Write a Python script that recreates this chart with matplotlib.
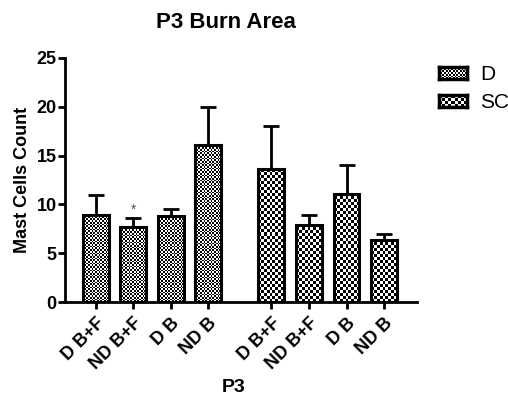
import numpy as np
import matplotlib
matplotlib.use('Agg')
import matplotlib.pyplot as plt

plt.rcParams['font.family'] = ['Liberation Sans', 'DejaVu Sans']

labels = ['D B+F', 'ND B+F', 'D B', 'ND B']
d_mean = [8.9, 7.7, 8.8, 16.1]
d_err = [2.05, 0.9, 0.75, 3.9]
sc_mean = [13.6, 7.9, 11.1, 6.4]
sc_err = [4.4, 1.05, 2.9, 0.6]

x_d = np.arange(4)
x_sc = np.arange(4) + 4.68
w = 0.69

W, H = 508, 396
fig = plt.figure(figsize=(W / 100, H / 100), dpi=100)
ax_rect = [0.128, 0.237, 0.693, 0.617]
ax = fig.add_axes(ax_rect)
ax.set_xlim(-0.82, 8.56)
ax.set_ylim(0, 25)

# pixels per data unit
px_x = ax_rect[2] * W / (8.56 + 0.82)
px_y = ax_rect[3] * H / 25


def checker(ny, nx):
    return np.add.outer(np.arange(ny), np.arange(nx)) % 2


def textured_bars(xs, hs, cell):
    bars = ax.bar(xs, hs, w, facecolor='none', edgecolor='black', linewidth=2.2, zorder=3)
    for b in bars:
        x0, y0 = b.get_x(), b.get_y()
        bw, bh = b.get_width(), b.get_height()
        nx = max(1, int(round(bw * px_x / cell)))
        ny = max(1, int(round(bh * px_y / cell)))
        im = ax.imshow(checker(ny, nx), cmap='gray', vmin=0, vmax=1,
                       extent=(x0, x0 + bw, y0, y0 + bh), origin='lower',
                       interpolation='nearest', aspect='auto', zorder=2)
        im.set_clip_path(b)
    return bars


textured_bars(x_d, d_mean, 1.7)
textured_bars(x_sc, sc_mean, 3.0)

ax.errorbar(x_d, d_mean, yerr=[np.zeros(4), d_err], fmt='none', ecolor='black',
            elinewidth=2, capsize=6, capthick=2, zorder=1)
ax.errorbar(x_sc, sc_mean, yerr=[np.zeros(4), sc_err], fmt='none', ecolor='black',
            elinewidth=2, capsize=6, capthick=2, zorder=1)

ax.text(x_d[1], d_mean[1] + d_err[1] + 0.15, '*', ha='center', va='bottom',
        fontsize=10, color='#555555')

ax.set_xlim(-0.82, 8.56)
ax.set_ylim(0, 25)
ax.set_yticks([0, 5, 10, 15, 20, 25])
ax.set_xticks(np.concatenate([x_d, x_sc]))
ax.set_xticklabels(labels + labels, rotation=45, ha='right', rotation_mode='anchor',
                   fontweight='bold', fontsize=13)
for t in ax.get_yticklabels():
    t.set_fontweight('bold')
    t.set_fontsize(13)

ax.spines['top'].set_visible(False)
ax.spines['right'].set_visible(False)
ax.spines['left'].set_linewidth(2)
ax.spines['bottom'].set_linewidth(2)
ax.tick_params(width=2, length=5, pad=1)
ax.tick_params(axis='x', pad=4)

ax.set_ylabel('Mast Cells Count', fontweight='bold', fontsize=13, labelpad=4)
fig.text(234 / W, (H - 388) / H, 'P3', fontweight='bold', fontsize=14,
         ha='center', va='center')
fig.text(226 / W, (H - 22) / H, 'P3 Burn Area', fontweight='bold', fontsize=16,
         ha='center', va='center')

# legend swatches
for i, (name, cell) in enumerate([('D', 1.7), ('SC', 3.0)]):
    cy = [73, 101][i]
    lax = fig.add_axes([439 / W, (H - cy - 6) / H, 28 / W, 12 / H])
    lax.imshow(checker(int(12 / cell), int(28 / cell)), cmap='gray', vmin=0, vmax=1,
               interpolation='nearest', aspect='auto')
    lax.set_xticks([])
    lax.set_yticks([])
    for s in lax.spines.values():
        s.set_linewidth(2.5)
    fig.text(480 / W, (H - cy - 1) / H, name, fontsize=15, ha='left', va='center')

fig.savefig('out.png', dpi=100)
